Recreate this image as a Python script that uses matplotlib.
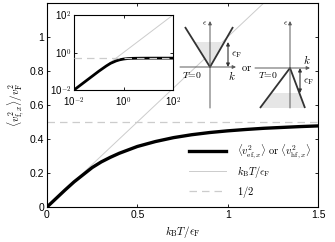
import numpy as np
import matplotlib
matplotlib.use("Agg")
import matplotlib.pyplot as plt
from matplotlib.patches import Polygon

plt.rcParams['font.family'] = ['Liberation Sans', 'DejaVu Sans']
plt.rcParams['mathtext.fontset'] = 'cm'

# ---- data ----
t_main = [0.0, 0.05, 0.1, 0.15, 0.2, 0.25, 0.3, 0.35, 0.4, 0.5, 0.6, 0.7,
          0.8, 0.9, 1.0, 1.1, 1.2, 1.3, 1.4, 1.5]
v_main = [0.0, 0.05, 0.10, 0.148, 0.19, 0.232, 0.265, 0.292, 0.316, 0.356,
          0.385, 0.408, 0.425, 0.438, 0.448, 0.456, 0.463, 0.468, 0.473, 0.477]
t_log = [0.01, 0.03, 0.1, 0.2, 0.3, 0.5, 0.7, 1.0, 1.5, 2.0, 3.0, 5.0, 10.0, 30.0, 100.0]
v_log = [0.01, 0.03, 0.1, 0.19, 0.265, 0.356, 0.408, 0.448, 0.477, 0.486,
         0.492, 0.496, 0.499, 0.5, 0.5]
half = 0.5
x_ticks = [0, 0.5, 1, 1.5]
x_ticklabels = ['0', '0.5', '1', '1.5']
y_ticks = [0, 0.2, 0.4, 0.6, 0.8, 1]
y_ticklabels = ['0', '0.2', '0.4', '0.6', '0.8', '1']
log_ticks = [1e-2, 1e0, 1e2]
log_ticklabels = [r'10$^{-2}$', r'10$^{0}$', r'10$^{2}$']
legend_labels = [r'$\langle v^2_{\mathrm{ef},x}\rangle\ \mathrm{or}\ \langle v^2_{\mathrm{hf},x}\rangle$',
                 r'$k_{\mathrm{B}}T/\epsilon_{\mathrm{F}}$', r'$1/2$']

W, H = 335, 242
fig = plt.figure(figsize=(W / 100, H / 100), dpi=100)
ax = fig.add_axes([47 / W, 1 - 207 / H, (318 - 47) / W, (207 - 3) / H])

lgray = '0.80'
l1, = ax.plot(t_main, v_main, color='black', lw=2.4, zorder=3)
l2, = ax.plot([0, 1.5], [0, 1.5], color=lgray, lw=0.7, zorder=2)
l3, = ax.plot([0, 1.5], [half, half], color=lgray, lw=0.9, ls=(0, (6, 4)), zorder=2)
ax.set_xlim(0, 1.5)
ax.set_ylim(0, 1.2)
ax.set_xticks(x_ticks)
ax.set_xticklabels(x_ticklabels)
ax.set_yticks(y_ticks)
ax.set_yticklabels(y_ticklabels)
ax.tick_params(direction='in', top=True, right=True, labelsize=7.5, length=2.5, width=0.6, pad=2)
for s in ax.spines.values():
    s.set_linewidth(0.8)
ax.set_xlabel(r'$k_{\mathrm{B}}T/\epsilon_{\mathrm{F}}$', fontsize=8, labelpad=3)
ax.set_ylabel(r'$\langle v^2_{\mathrm{f},x}\rangle/v^2_{\mathrm{F}}$', fontsize=8, labelpad=3)
ax.legend([l1, l2, l3], legend_labels, loc='lower right', frameon=False, fontsize=7.5,
          handlelength=3.6, handletextpad=1.0, bbox_to_anchor=(1.0, 0.0),
          borderaxespad=0.3, labelspacing=0.35)

# ---- inset ----
ins = fig.add_axes([74 / W, 1 - 90 / H, (173 - 74) / W, (90 - 15) / H])
ins.loglog(t_log, v_log, color='black', lw=2.0, zorder=3)
ins.loglog([1e-2, 1e2], [1e-2, 1e2], color=lgray, lw=0.7, zorder=2)
ins.loglog([1e-2, 1e2], [half, half], color=lgray, lw=0.9, ls=(0, (6, 4)), zorder=4)
ins.set_xlim(1e-2, 1e2)
ins.set_ylim(1e-2, 1e2)
ins.set_xticks(log_ticks)
ins.set_xticklabels(log_ticklabels)
ins.set_yticks(log_ticks)
ins.set_yticklabels(log_ticklabels)
ins.minorticks_off()
ins.tick_params(direction='in', top=True, right=True, labelsize=7, length=2.5, width=0.6, pad=2)
ins.tick_params(axis='x', pad=4)
for s in ins.spines.values():
    s.set_linewidth(0.8)

# ---- band diagrams (pixel coordinates overlay) ----
ov = fig.add_axes([0, 0, 1, 1], zorder=10)
ov.set_xlim(0, W)
ov.set_ylim(H, 0)
ov.axis('off')
ov.patch.set_alpha(0)

axc = '0.35'
armc = '0.2'
shade = '0.9'
ap = dict(arrowstyle='-|>', color=axc, lw=0.7, mutation_scale=5, shrinkA=0, shrinkB=0)
dap = dict(arrowstyle='<|-|>', color=armc, lw=0.8, mutation_scale=5, shrinkA=0, shrinkB=0)

# left: electron cone
vx, vy = 210, 67
ov.add_patch(Polygon([(vx, vy), (vx - 15.6, 42), (vx + 14.4, 42)], closed=True, fc=shade, ec='none'))
ov.annotate('', xy=(vx, 21), xytext=(vx, 108), arrowprops=ap)
ov.annotate('', xy=(236, vy), xytext=(180, vy), arrowprops=ap)
ov.plot([185, vx, 233], [27, vy, 27], color=armc, lw=1.3, solid_capstyle='butt')
ov.annotate('', xy=(228, 42), xytext=(228, vy), arrowprops=dap)
ov.text(205, 24, r'$\epsilon$', fontsize=6, ha='center', va='center')
ov.text(231, 55, r'$\epsilon_{\mathrm{F}}$', fontsize=7.5, ha='left', va='center')
ov.text(232, 75, r'$k$', fontsize=8, ha='center', va='center')
ov.text(192, 75, r'$T\!=\!0$', fontsize=7, ha='center', va='center')
ov.text(247, 68, r'$\mathrm{or}$', fontsize=7.5, ha='center', va='center')

# right: hole cone
wx, wy = 290, 68
ov.add_patch(Polygon([(wx - 18.75, 93), (260, 108), (305, 108), (wx + 9.4, 93)],
                     closed=True, fc=shade, ec='none'))
ov.annotate('', xy=(wx, 21), xytext=(wx, 108), arrowprops=ap)
ov.annotate('', xy=(310, wy), xytext=(255, wy), arrowprops=ap)
ov.plot([260, wx, 305], [108, wy, 108], color=armc, lw=1.3, solid_capstyle='butt')
ov.annotate('', xy=(300, 93), xytext=(300, wy), arrowprops=dap)
ov.text(286, 24, r'$\epsilon$', fontsize=6, ha='center', va='center')
ov.text(303, 82, r'$\epsilon_{\mathrm{F}}$', fontsize=7.5, ha='left', va='center')
ov.text(307, 60, r'$k$', fontsize=8, ha='center', va='center')
ov.text(268, 75, r'$T\!=\!0$', fontsize=7, ha='center', va='center')

fig.savefig('out.png', dpi=100)
